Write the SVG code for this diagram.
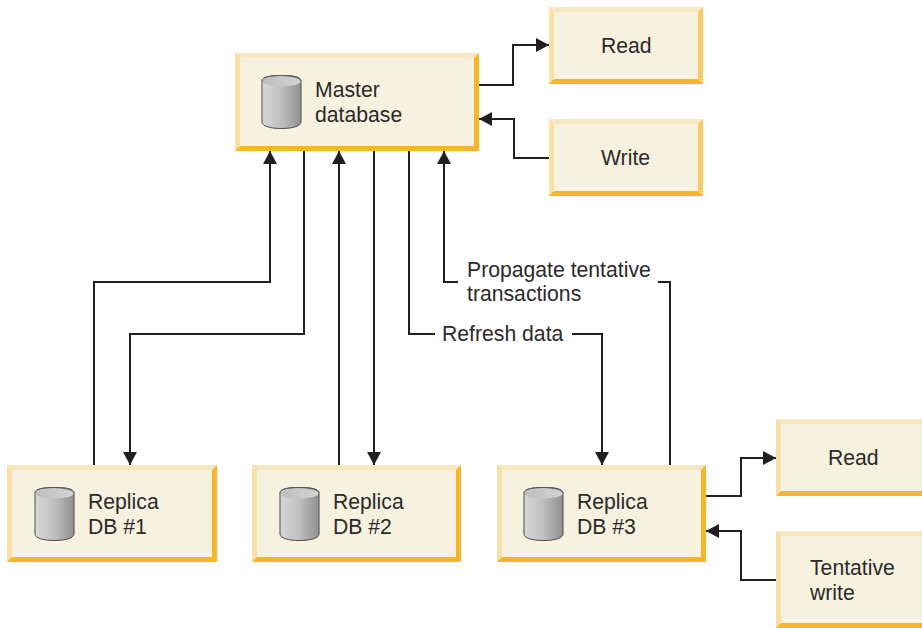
<svg xmlns="http://www.w3.org/2000/svg" width="922" height="628" viewBox="0 0 922 628">
<style>
.face{fill:#f7f2df}
.tl{fill:#f6e7c2}
.lf{fill:#f8dfa6}
.br{fill:#f6b62c}
.br2{fill:#f8c964}
.cyl{fill:url(#g);stroke:#4a4a4a;stroke-width:1}
.cap{fill:url(#c);stroke:none}
.rim{fill:none;stroke:#5a5a5a;stroke-width:1}
text{font-family:"Liberation Sans",Arial,sans-serif;font-size:21.2px;fill:#2b2a2b}
.line{fill:none;stroke:#231f20;stroke-width:2}
</style>
<defs>
<linearGradient id="g" x1="0" x2="1" y1="0" y2="0"><stop offset="0" stop-color="#d8d8d8"/><stop offset="0.5" stop-color="#bebebe"/><stop offset="1" stop-color="#909090"/></linearGradient>
<linearGradient id="c" x1="0" x2="1" y1="0" y2="0"><stop offset="0" stop-color="#bcbcbc"/><stop offset="1" stop-color="#d4d4d4"/></linearGradient>
<marker id="a" markerUnits="userSpaceOnUse" markerWidth="13" markerHeight="14" refX="13" refY="7" orient="auto"><path d="M0 0L13 7L0 14Z" fill="#231f20"/></marker>
<g id="db"><path class="cyl" d="M0 6V47C0 51 8 53.500 19.500 53.500S39 51 39 47V6C39 2 31 .5 19.500 .5S0 2 0 6Z"/><ellipse class="cap" cx="19.500" cy="6.500" rx="19" ry="5"/><path class="rim" d="M0 6C0 2 8 .5 19.500 .5S39 2 39 6"/></g>
</defs>
<g id="connectors">
<path class="line" marker-end="url(#a)" d="M479 85H513V45H549"/>
<path class="line" marker-end="url(#a)" d="M549 158H514V119H479"/>
<path class="line" marker-end="url(#a)" d="M94 465V282H270V151"/>
<path class="line" marker-end="url(#a)" d="M304 151V334H130V465"/>
<path class="line" marker-end="url(#a)" d="M339 465V151"/>
<path class="line" marker-end="url(#a)" d="M374 151V465"/>
<path class="line" d="M409 151V334H435"/>
<path class="line" marker-end="url(#a)" d="M572 334H602V465"/>
<path class="line" marker-end="url(#a)" d="M458 282H444V151"/>
<path class="line" d="M670 465V282H658"/>
<path class="line" marker-end="url(#a)" d="M706 496H741V458H776"/>
<path class="line" marker-end="url(#a)" d="M776 580H741V531H706"/>
</g>
<g id="master">
<rect class="tl" x="235" y="53" width="244" height="98"/>
<polygon class="lf" points="235,53 240,58 240,146 235,151"/>
<polygon class="br" points="479,53 479,151 235,151 240,146 474,146 474,58"/>
<rect class="face" x="240" y="58" width="234" height="88"/>
<use href="#db" x="262" y="75"/>
<text x="315" y="97">Master</text><text x="315" y="122">database</text>
</g>
<g id="read1">
<rect class="tl" x="549" y="7" width="154" height="77"/>
<polygon class="lf" points="549,7 554,12 554,79 549,84"/>
<polygon class="br2" points="703,7 703,84 698,79 698,12"/>
<polygon class="br" points="703,84 549,84 554,79 698,79"/>
<rect class="face" x="554" y="12" width="144" height="67"/>
<text x="601" y="53">Read</text>
</g>
<g id="write">
<rect class="tl" x="549" y="119" width="154" height="77"/>
<polygon class="lf" points="549,119 554,124 554,191 549,196"/>
<polygon class="br2" points="703,119 703,196 698,191 698,124"/>
<polygon class="br" points="703,196 549,196 554,191 698,191"/>
<rect class="face" x="554" y="124" width="144" height="67"/>
<text x="601" y="165">Write</text>
</g>
<g id="replica1">
<rect class="tl" x="7" y="465" width="210" height="97"/>
<polygon class="lf" points="7,465 12,470 12,557 7,562"/>
<polygon class="br" points="217,465 217,562 7,562 12,557 212,557 212,470"/>
<rect class="face" x="12" y="470" width="200" height="87"/>
<use href="#db" x="35" y="487"/>
<text x="88" y="509">Replica</text><text x="88" y="534">DB #1</text>
</g>
<g id="replica2">
<rect class="tl" x="252" y="465" width="209" height="97"/>
<polygon class="lf" points="252,465 257,470 257,557 252,562"/>
<polygon class="br" points="461,465 461,562 252,562 257,557 456,557 456,470"/>
<rect class="face" x="257" y="470" width="199" height="87"/>
<use href="#db" x="280" y="487"/>
<text x="333" y="509">Replica</text><text x="333" y="534">DB #2</text>
</g>
<g id="replica3">
<rect class="tl" x="497" y="465" width="209" height="97"/>
<polygon class="lf" points="497,465 502,470 502,557 497,562"/>
<polygon class="br" points="706,465 706,562 497,562 502,557 701,557 701,470"/>
<rect class="face" x="502" y="470" width="199" height="87"/>
<use href="#db" x="524" y="487"/>
<text x="577" y="509">Replica</text><text x="577" y="534">DB #3</text>
</g>
<g id="read2">
<rect class="tl" x="776" y="419" width="146" height="77"/>
<polygon class="lf" points="776,419 781,424 781,491 776,496"/>
<polygon class="br" points="922,496 776,496 781,491 922,491"/>
<rect class="face" x="781" y="424" width="141" height="67"/>
<text x="828" y="465">Read</text>
</g>
<g id="tentative">
<rect class="tl" x="776" y="531" width="146" height="97"/>
<polygon class="lf" points="776,531 781,536 781,623 776,628"/>
<polygon class="br" points="922,628 776,628 781,623 922,623"/>
<rect class="face" x="781" y="536" width="141" height="87"/>
<text x="810" y="575">Tentative</text><text x="810" y="600">write</text>
</g>
<text x="467" y="277">Propagate tentative</text>
<text x="467" y="301">transactions</text>
<text x="442" y="341">Refresh data</text>
</svg>
